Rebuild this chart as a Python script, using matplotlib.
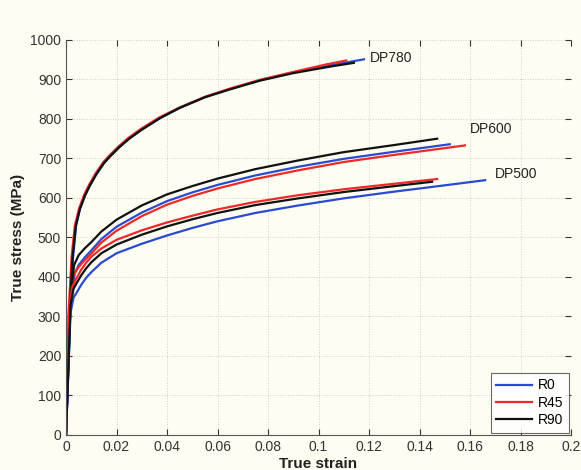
import matplotlib
matplotlib.use("Agg")
import matplotlib.pyplot as plt

# ===================
# DATA
# ===================
# DP780
dp780_r0_strain = [0, 0.0018, 0.0028, 0.004, 0.0055, 0.0075, 0.0095, 0.012, 0.015, 0.0174, 0.021, 0.025, 0.03, 0.0372, 0.045, 0.055, 0.065, 0.0768, 0.09, 0.105, 0.118]
dp780_r0_stress = [0, 330, 450, 530, 572, 606, 632, 660, 688, 705, 728, 750, 773, 802, 828, 855, 876, 898, 918, 936, 951]
dp780_r45_strain = [0, 0.0012, 0.0022, 0.0035, 0.0052, 0.0072, 0.0092, 0.0117, 0.0147, 0.0171, 0.0207, 0.0247, 0.0297, 0.037, 0.045, 0.055, 0.065, 0.0768, 0.09, 0.103, 0.111]
dp780_r45_stress = [0, 330, 450, 530, 574, 608, 634, 662, 690, 707, 730, 752, 775, 804, 829, 856, 877, 899, 919, 938, 948]
dp780_r90_strain = [0, 0.0016, 0.0026, 0.0039, 0.0055, 0.0075, 0.0095, 0.012, 0.015, 0.0174, 0.021, 0.025, 0.03, 0.0372, 0.045, 0.055, 0.065, 0.0768, 0.09, 0.105, 0.114]
dp780_r90_stress = [0, 330, 450, 530, 572, 606, 632, 660, 688, 705, 728, 750, 773, 802, 828, 855, 875, 897, 916, 933, 942]

# DP600
dp600_r0_strain = [0, 0.0018, 0.0035, 0.005, 0.0075, 0.01, 0.014, 0.02, 0.03, 0.04, 0.05, 0.06, 0.075, 0.092, 0.11, 0.13, 0.152]
dp600_r0_stress = [0, 340, 410, 430, 450, 467, 496, 527, 563, 592, 614, 633, 657, 679, 699, 717, 736]
dp600_r45_strain = [0, 0.0012, 0.003, 0.005, 0.0075, 0.01, 0.014, 0.02, 0.03, 0.04, 0.05, 0.06, 0.075, 0.092, 0.11, 0.13, 0.158]
dp600_r45_stress = [0, 330, 405, 425, 443, 459, 487, 517, 554, 583, 605, 624, 648, 670, 691, 709, 733]
dp600_r90_strain = [0, 0.0018, 0.0032, 0.005, 0.0075, 0.01, 0.014, 0.02, 0.03, 0.04, 0.05, 0.06, 0.075, 0.092, 0.11, 0.13, 0.147]
dp600_r90_stress = [0, 350, 430, 455, 473, 488, 515, 545, 581, 609, 630, 649, 673, 695, 716, 734, 750]

# DP500
dp500_r0_strain = [0, 0.0018, 0.003, 0.004, 0.006, 0.008, 0.01, 0.014, 0.02, 0.03, 0.04, 0.05, 0.06, 0.075, 0.092, 0.11, 0.13, 0.15, 0.166]
dp500_r0_stress = [0, 310, 348, 358, 380, 398, 412, 436, 460, 484, 505, 524, 541, 562, 581, 599, 616, 632, 645]
dp500_r45_strain = [0, 0.0012, 0.0025, 0.004, 0.006, 0.008, 0.01, 0.014, 0.02, 0.03, 0.04, 0.05, 0.06, 0.075, 0.092, 0.11, 0.13, 0.147]
dp500_r45_stress = [0, 320, 375, 395, 418, 436, 451, 472, 494, 518, 538, 555, 571, 590, 607, 622, 636, 648]
dp500_r90_strain = [0, 0.0018, 0.003, 0.004, 0.006, 0.008, 0.01, 0.014, 0.02, 0.03, 0.04, 0.05, 0.06, 0.075, 0.092, 0.11, 0.13, 0.145]
dp500_r90_stress = [0, 330, 370, 382, 404, 422, 437, 460, 482, 507, 528, 546, 562, 582, 599, 615, 630, 641]

grade_labels = ["DP780", "DP600", "DP500"]
grade_label_pos = [(0.1205, 955), (0.160, 775), (0.170, 660)]
legend_labels = ["R0", "R45", "R90"]

x_ticks = [0, 0.02, 0.04, 0.06, 0.08, 0.1, 0.12, 0.14, 0.16, 0.18, 0.2]
x_tick_labels = ["0", "0.02", "0.04", "0.06", "0.08", "0.1", "0.12", "0.14", "0.16", "0.18", "0.2"]
y_ticks = list(range(0, 1001, 100))

# ===================
# STYLE
# ===================
BG = "#fdfdf2"
COLORS = {"R0": "#2a4ad0", "R45": "#f02828", "R90": "#111111"}
LW = 1.6

plt.rcParams["font.family"] = ["Liberation Sans", "DejaVu Sans"]

fig = plt.figure(figsize=(5.81, 4.70), dpi=100, facecolor=BG)
ax = fig.add_axes([0.1136, 0.0745, 0.8692, 0.8405], facecolor=BG)

curves = [
    (dp780_r0_strain, dp780_r0_stress, "R0"),
    (dp780_r45_strain, dp780_r45_stress, "R45"),
    (dp780_r90_strain, dp780_r90_stress, "R90"),
    (dp600_r0_strain, dp600_r0_stress, "R0"),
    (dp600_r45_strain, dp600_r45_stress, "R45"),
    (dp600_r90_strain, dp600_r90_stress, "R90"),
    (dp500_r0_strain, dp500_r0_stress, "R0"),
    (dp500_r45_strain, dp500_r45_stress, "R45"),
    (dp500_r90_strain, dp500_r90_stress, "R90"),
]

handles = {}
for xs, ys, lab in curves:
    line, = ax.plot(xs, ys, color=COLORS[lab], linewidth=LW, solid_joinstyle="round")
    handles.setdefault(lab, line)

for text, (tx, ty) in zip(grade_labels, grade_label_pos):
    ax.text(tx, ty, text, fontsize=10, ha="left", va="center", color="#222222")

ax.set_xlim(0, 0.2)
ax.set_ylim(0, 1000)
ax.set_xticks(x_ticks)
ax.set_xticklabels(x_tick_labels)
ax.set_yticks(y_ticks)
ax.tick_params(direction="in", length=4, labelsize=10, colors="#333333", top=True, right=True,
               labeltop=False, labelright=False)
ax.grid(True, linestyle=":", color="#cfcfcf", linewidth=0.7)

for side in ["top", "right"]:
    ax.spines[side].set_visible(False)
for side in ["left", "bottom"]:
    ax.spines[side].set_color("#555555")

ax.set_xlabel("True strain", fontsize=11, fontweight="bold", color="#222222", labelpad=2)
ax.set_ylabel("True stress (MPa)", fontsize=11, fontweight="bold", color="#222222", labelpad=4)

leg = ax.legend([handles[l] for l in legend_labels], legend_labels, loc="lower right",
                fontsize=10, frameon=True, fancybox=False, handlelength=2.6,
                borderaxespad=0.15, labelspacing=0.25, handletextpad=0.4)
leg.get_frame().set_edgecolor("#444444")
leg.get_frame().set_facecolor("white")
leg.get_frame().set_linewidth(0.8)

fig.savefig("out.png", dpi=100, facecolor=BG)
